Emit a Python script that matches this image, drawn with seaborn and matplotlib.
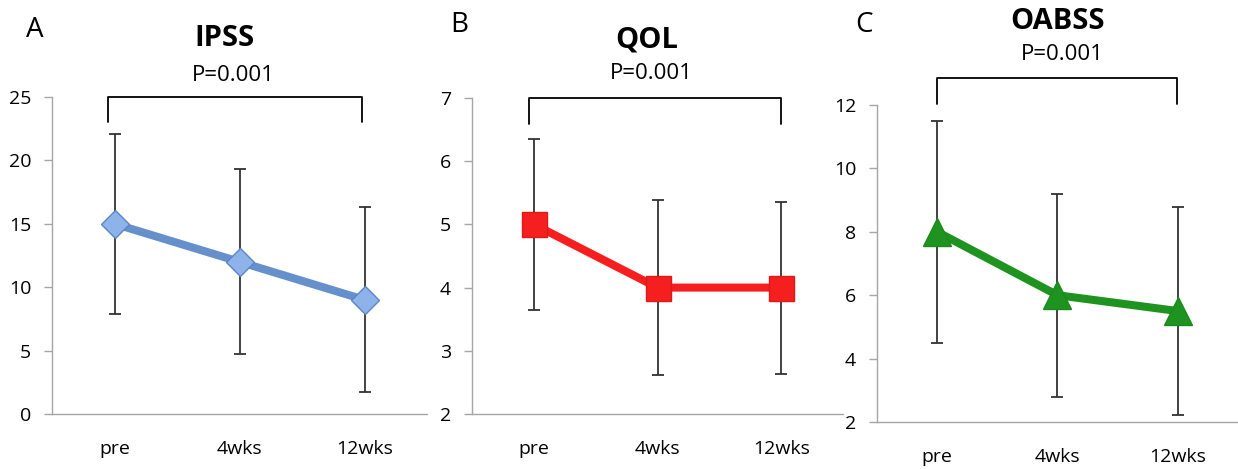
import matplotlib
matplotlib.use('Agg')
import matplotlib.pyplot as plt
import seaborn as sns
import pandas as pd

# 数据
times = ['pre', '4wks', '12wks']
ipss_mean = [15, 12, 9]
ipss_sd = [7.1, 7.3, 7.3]
qol_mean = [5, 4, 4]
qol_sd = [1.35, 1.38, 1.36]
oabss_mean = [8, 6, 5.5]
oabss_sd = [3.5, 3.2, 3.28]
p_text = 'P=0.001'

sns.set_style('white')
plt.rcParams['font.family'] = ['Open Sans', 'DejaVu Sans']
plt.rcParams['text.color'] = 'black'
plt.rcParams['xtick.color'] = 'black'
plt.rcParams['ytick.color'] = 'black'

fig = plt.figure(figsize=(12.38, 4.69), dpi=100)
axA = fig.add_axes([0.042, 0.1173, 0.303, 0.6759])
axB = fig.add_axes([0.3813, 0.1173, 0.2997, 0.6738])
axC = fig.add_axes([0.7084, 0.1002, 0.2916, 0.6759])


def panel(ax, mean, sd, color, face, edge, marker, ms, yticks, letter, title,
          bracket, pos):
    df = pd.DataFrame({'time': times, 'value': mean})
    ax.errorbar(times, mean, yerr=sd, fmt='none', ecolor='#333333',
                elinewidth=1.3, capsize=4.5, capthick=1.3, zorder=2)
    sns.lineplot(data=df, x='time', y='value', ax=ax, color=color, lw=5.8,
                 marker=marker, markersize=ms, markerfacecolor=face,
                 markeredgecolor=edge, markeredgewidth=1, zorder=3)
    ax.set_xlim(-0.5, 2.5)
    ax.set_ylim(yticks[0], yticks[-1])
    ax.set_yticks(yticks)
    ax.set_xticks([0, 1, 2])
    ax.set_xticks([-0.5, 0.5, 1.5], minor=True)
    ax.tick_params(axis='x', which='major', length=0, pad=19, labelsize=14,
                   labelcolor='black')
    ax.tick_params(axis='x', which='minor', length=6, width=1, color='#A6A6A6',
                   direction='out')
    ax.tick_params(axis='y', length=6, width=1, color='#A6A6A6', direction='out',
                   pad=9, labelsize=14, left=True, labelcolor='black')
    ax.set_xlabel('')
    ax.set_ylabel('')
    sns.despine(ax=ax)
    for s in ['left', 'bottom']:
        ax.spines[s].set_color('#A6A6A6')
        ax.spines[s].set_linewidth(1)
    x0, x1, ytop, ybot = bracket
    ax.plot([x0, x0, x1, x1], [ybot, ytop, ytop, ybot], color='black', lw=1.3,
            clip_on=False)
    tx, ty, px, py, lx, ly = pos
    ax.text(tx, ty, title, transform=ax.transAxes, ha='center', va='center',
            fontsize=21, fontweight='bold')
    ax.text(px, py, p_text, transform=ax.transAxes, ha='center', va='center',
            fontsize=16)
    ax.text(lx, ly, letter, transform=ax.transAxes, ha='center', va='center',
            fontsize=20)


panel(axA, ipss_mean, ipss_sd, '#6690CC', '#8DB3EA', '#5B85C3', 'D', 14,
      [0, 5, 10, 15, 20, 25], 'A', 'IPSS', (-0.05, 1.98, 25, 23.0),
      (0.461, 1.185, 0.483, 1.069, -0.045, 1.211))
panel(axB, qol_mean, qol_sd, '#F51F1F', '#F51F1F', '#E01818', 's', 18,
      [2, 3, 4, 5, 6, 7], 'B', 'QOL', (-0.04, 2.0, 7, 6.59),
      (0.472, 1.185, 0.482, 1.079, -0.035, 1.23))
panel(axC, oabss_mean, oabss_sd, '#1F931F', '#1F931F', '#1A8A1A', '^', 20,
      [2, 4, 6, 8, 10, 12], 'C', 'OABSS', (0.0, 1.99, 12.85, 12.03),
      (0.499, 1.265, 0.512, 1.158, -0.036, 1.252))

fig.savefig('out.png', dpi=100)
